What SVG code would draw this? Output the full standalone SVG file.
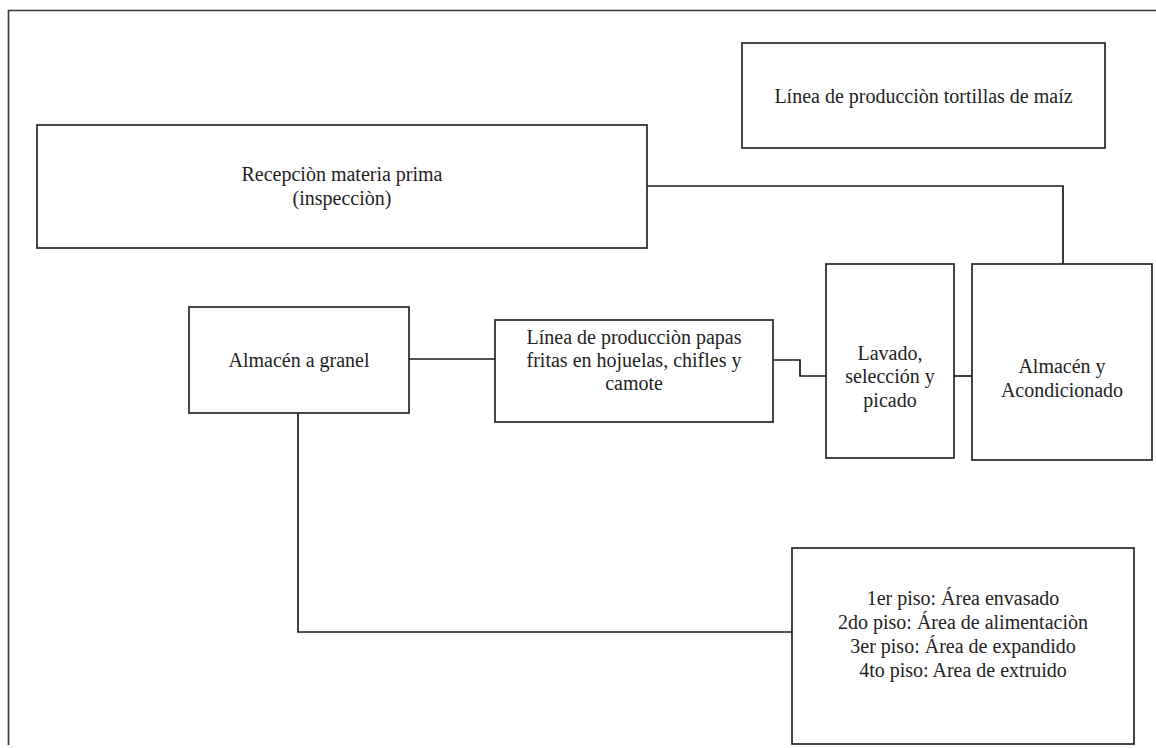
<svg xmlns="http://www.w3.org/2000/svg" width="1156" height="748" viewBox="0 0 1156 748">
<style>
.box{fill:#fff;stroke:#262626;stroke-width:1.7}
.frame{fill:none;stroke:#3a3a3a;stroke-width:1.7}
.con{fill:none;stroke:#1a1a1a;stroke-width:1.7}
text{font-family:"Liberation Serif","Times New Roman",serif;font-size:20px;fill:#222;text-anchor:middle}
</style>
<rect width="1156" height="748" fill="#fff"/>
<g id="frame">
<path class="frame" d="M8.5,745 V10.5 H1156"/>
</g>
<g id="connectors">
<path class="con" d="M647,186 H1063 V264"/>
<path class="con" d="M409,359 H495"/>
<path class="con" d="M773,360 H800 V376 H826"/>
<path class="con" d="M954,376 H972"/>
<path class="con" d="M298,413 V632 H792"/>
</g>
<g id="tortillas">
<rect class="box" x="742" y="43" width="363" height="105"/>
<text x="923.5" y="103">Línea de producciòn tortillas de maíz</text>
</g>
<g id="recepcion">
<rect class="box" x="37" y="125" width="610" height="123"/>
<text x="342" y="181">Recepciòn materia prima</text>
<text x="342" y="205">(inspecciòn)</text>
</g>
<g id="granel">
<rect class="box" x="189" y="307" width="220" height="106"/>
<text x="299" y="367">Almacén a granel</text>
</g>
<g id="papas">
<rect class="box" x="495" y="320" width="278" height="102"/>
<text x="634" y="344">Línea de producciòn papas</text>
<text x="634" y="367">fritas en hojuelas, chifles y</text>
<text x="634" y="390">camote</text>
</g>
<g id="lavado">
<rect class="box" x="826" y="264" width="128" height="194"/>
<text x="890" y="360">Lavado,</text>
<text x="890" y="383">selección y</text>
<text x="890" y="407">picado</text>
</g>
<g id="acondicionado">
<rect class="box" x="972" y="264" width="180" height="196"/>
<text x="1062" y="373">Almacén y</text>
<text x="1062" y="397">Acondicionado</text>
</g>
<g id="pisos">
<rect class="box" x="792" y="548" width="342" height="196"/>
<text x="963" y="605">1er piso: Área envasado</text>
<text x="963" y="629">2do piso: Área de alimentaciòn</text>
<text x="963" y="653">3er piso: Área de expandido</text>
<text x="963" y="677">4to piso: Area de extruido</text>
</g>
</svg>
